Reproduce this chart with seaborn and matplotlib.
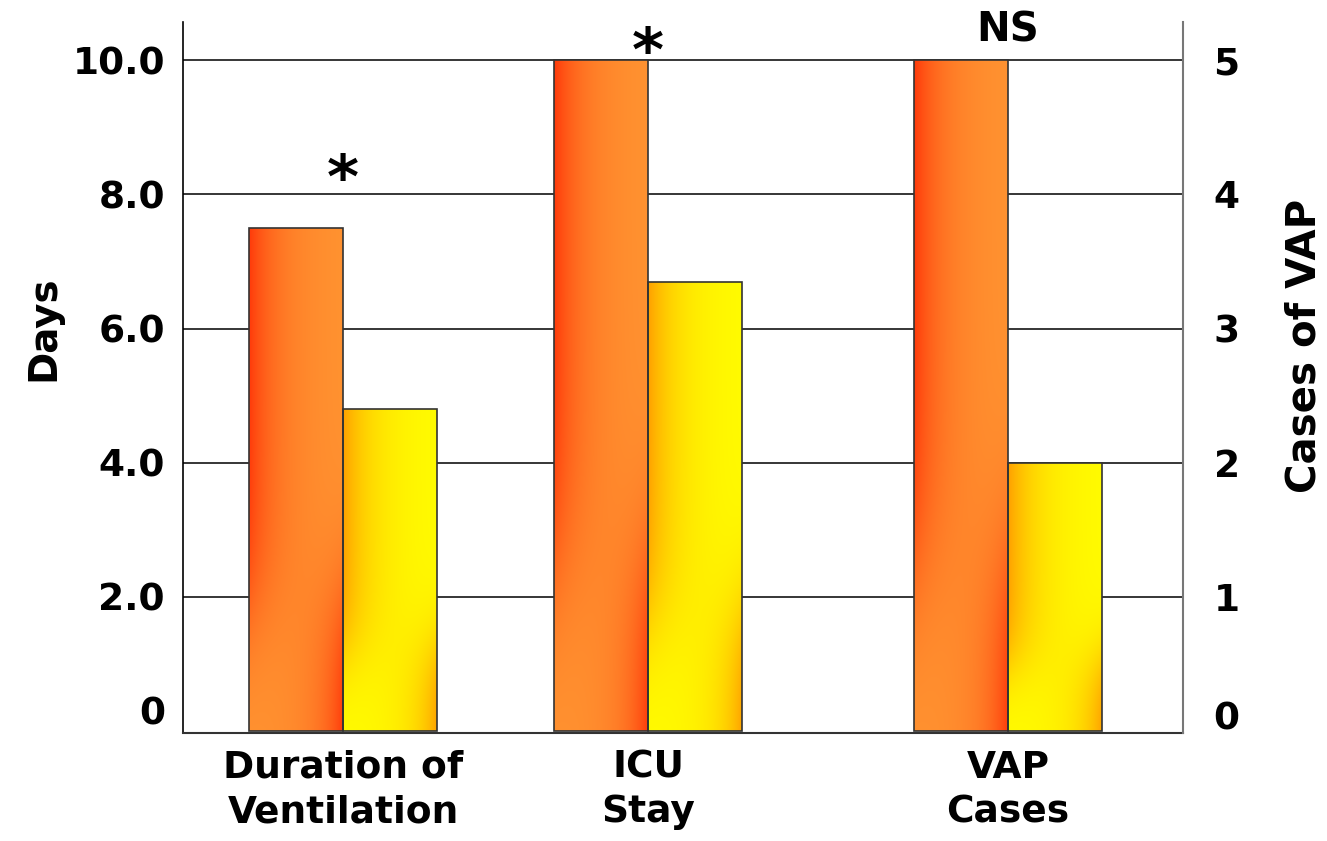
import numpy as np
import pandas as pd
import matplotlib
matplotlib.use("Agg")
import matplotlib.pyplot as plt
import matplotlib.transforms as mtransforms
import seaborn as sns

# data
categories = ["Duration of\nVentilation", "ICU\nStay", "VAP\nCases"]
groups = ["Control", "Intervention"]
days_control = [7.5, 10.0]        # ventilation days, ICU days
days_intervention = [4.8, 6.7]
vap_control = 5                   # cases of VAP (right axis)
vap_intervention = 2
significance = ["*", "*", "NS"]

days_ticks = [0, 2, 4, 6, 8, 10]
days_tick_labels = ["0", "2.0", "4.0", "6.0", "8.0", "10.0"]
case_ticks = [0, 1, 2, 3, 4, 5]

# layout (not data)
group_pos = [0.0, 1.0, 2.18]
sig_offset = [0.25, -0.36, 0.15]

scale = days_ticks[-1] / case_ticks[-1]   # days per VAP case on the shared scale

df = pd.DataFrame({
    "pos": group_pos * 2,
    "group": [groups[0]] * 3 + [groups[1]] * 3,
    "value": days_control + [vap_control * scale] + days_intervention + [vap_intervention * scale],
})

sns.set_theme(style="white")
plt.rcParams["font.family"] = ["DejaVu Sans"]
plt.rcParams["font.weight"] = "bold"
for key in ["text.color", "axes.labelcolor", "xtick.color", "ytick.color"]:
    plt.rcParams[key] = "black"

fig = plt.figure(figsize=(13.27, 8.41), dpi=100)
ax = fig.add_axes([183 / 1327, 1 - 733 / 841, 1000 / 1327, 711 / 841])

sns.barplot(data=df, x="pos", y="value", hue="group", hue_order=groups,
            native_scale=True, width=0.616, palette=["#ff9632", "#ffff00"],
            saturation=1, edgecolor="#333333", linewidth=1.2, legend=False, ax=ax)

xlim = (-0.525, 2.754)
ylim = (-0.03, 10.57)

# gradient fills clipped to each bar
def gradient(c_edge, c_main, nx=120, ny=300):
    u = np.linspace(0, 1, nx)[None, :]
    v = np.linspace(1, 0, ny)[:, None]          # row 0 = top
    top = 1 / (1 + np.exp(-(v - 0.25) / 0.08))
    left = np.exp(-u / 0.32)
    right = np.exp(-(1 - u) / 0.26)
    w = top * left + (1 - top) * right
    w = np.clip(w, 0, 1)[..., None]
    c0 = np.array(matplotlib.colors.to_rgb(c_edge))
    c1 = np.array(matplotlib.colors.to_rgb(c_main))
    return c1 * (1 - w) + c0 * w

bar_colors = [("#ff3a0a", "#ff9632")] * 3 + [("#ffa000", "#ffff00")] * 3
for patch, cols in zip(ax.patches, bar_colors):
    x0, y0 = patch.get_x(), patch.get_y()
    w, h = patch.get_width(), patch.get_height()
    img = ax.imshow(gradient(*cols), extent=(x0, x0 + w, y0, y0 + h),
                    aspect="auto", zorder=0.9, interpolation="bilinear")
    img.set_clip_path(patch)
    patch.set_facecolor("none")
    patch.set_zorder(1)

ax.set_xlim(*xlim)
ax.set_ylim(*ylim)
ax.set_axisbelow(True)

# gridlines
for t in days_ticks[1:]:
    ax.axhline(t, color="black", lw=1.1, zorder=0.5)

ax.set_xticks(group_pos)
ax.set_xticklabels(categories, fontsize=27, fontweight="bold", linespacing=1.3)
ax.set_yticks(days_ticks)
ax.set_yticklabels(days_tick_labels, fontsize=27, fontweight="bold")
ax.tick_params(axis="both", length=0)
ax.tick_params(axis="y", pad=13)
ax.tick_params(axis="x", pad=12)
ax.set_xlabel("")
ax.set_ylabel("Days", fontsize=28, fontweight="bold")
ax.yaxis.set_label_coords(-0.121, 0.57)

for side in ["top", "right"]:
    ax.spines[side].set_visible(False)
ax.spines["left"].set_color("black")
ax.spines["left"].set_linewidth(1.2)
ax.spines["bottom"].set_color("#333333")
ax.spines["bottom"].set_linewidth(1.5)

ax2 = ax.twinx()
ax2.set_ylim(ylim[0] / scale, ylim[1] / scale)
ax2.set_yticks(case_ticks)
ax2.set_yticklabels([str(c) for c in case_ticks], fontsize=27, fontweight="bold")
ax2.tick_params(axis="y", length=0, pad=22)
ax2.set_ylabel("Cases of VAP", fontsize=29, fontweight="bold")
ax2.yaxis.set_label_coords(1.102, 0.545)
for side in ["top", "left", "bottom"]:
    ax2.spines[side].set_visible(False)
ax2.spines["right"].set_color("#777777")
ax2.spines["right"].set_linewidth(1.5)
ax2.grid(False)

# lift the zero labels a bit
up = mtransforms.ScaledTranslation(0, 20 / 100, fig.dpi_scale_trans)
lbl = ax.get_yticklabels()[0]
lbl.set_transform(lbl.get_transform() + up)
up2 = mtransforms.ScaledTranslation(0, 15 / 100, fig.dpi_scale_trans)
lbl2 = ax2.get_yticklabels()[0]
lbl2.set_transform(lbl2.get_transform() + up2)

# significance markers
tops = df.groupby("pos")["value"].max().reindex(group_pos).values
for p, top, s, off in zip(group_pos, tops, significance, sig_offset):
    size = 44 if s == "*" else 29
    ax.text(p, top + off, s, ha="center", va="bottom", fontsize=size, fontweight="bold")

fig.savefig("out.png", dpi=100, facecolor="white")
